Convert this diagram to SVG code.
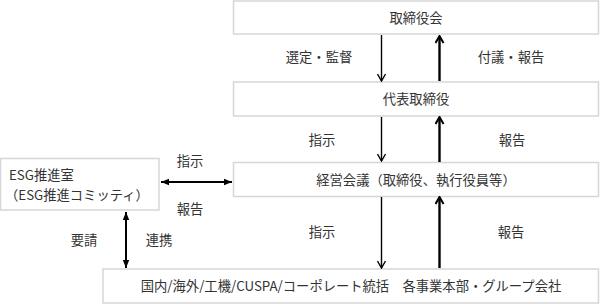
<svg xmlns="http://www.w3.org/2000/svg" width="600" height="304" viewBox="0 0 600 304">
<style>
  .box { fill: #ffffff; stroke: #d6d6d6; stroke-width: 1.5; }
  text { font-family: "Noto Sans CJK JP", "Noto Sans", sans-serif; font-size: 13.3px; fill: #333333; }
  .c { text-anchor: middle; }
  .thin { stroke: #000; stroke-width: 1.4; fill: none; }
  .thick { stroke: #000; stroke-width: 2.4; fill: none; }
  .dbl { stroke: #000; stroke-width: 2; fill: none; }
</style>
<defs>
  <marker id="vThin" markerUnits="userSpaceOnUse" viewBox="0 0 10 10" markerWidth="10" markerHeight="10" refX="9" refY="5" orient="auto">
    <path d="M2,1 L9,5 L2,9" fill="none" stroke="#000" stroke-width="1.4"/>
  </marker>
  <marker id="vThick" markerUnits="userSpaceOnUse" viewBox="0 0 10 10" markerWidth="10" markerHeight="10" refX="9" refY="5" orient="auto">
    <path d="M2,1 L9,5 L2,9" fill="none" stroke="#000" stroke-width="2"/>
  </marker>
  <marker id="tri" markerUnits="userSpaceOnUse" viewBox="0 0 8 8" markerWidth="8" markerHeight="8" refX="8" refY="4" orient="auto-start-reverse">
    <path d="M0,0.8 L8,4 L0,7.2 z" fill="#000"/>
  </marker>
</defs>

<g id="node-board">
  <rect class="box" x="233.5" y="1" width="365" height="33"/>
  <text class="c" x="416" y="23">取締役会</text>
</g>
<g id="node-president">
  <rect class="box" x="233.5" y="82" width="365" height="34"/>
  <text class="c" x="416" y="104">代表取締役</text>
</g>
<g id="node-mgmt">
  <rect class="box" x="233.5" y="162.5" width="365" height="34"/>
  <text class="c" x="416" y="185">経営会議（取締役、執行役員等）</text>
</g>
<g id="node-divisions">
  <rect class="box" x="103" y="269" width="495.5" height="34"/>
  <text class="c" x="351" y="291">国内/海外/工機/CUSPA/コーポレート統括　各事業本部・グループ会社</text>
</g>
<g id="node-esg">
  <rect class="box" x="0.5" y="158.5" width="158.5" height="51.5"/>
  <text x="9" y="180">ESG推進室</text>
  <text x="5" y="200">（ESG推進コミッティ）</text>
</g>

<g id="connectors">
  <line class="thin" x1="381.5" y1="35" x2="381.5" y2="81" marker-end="url(#vThin)"/>
  <line class="thick" x1="439.5" y1="81" x2="439.5" y2="36" marker-end="url(#vThick)"/>
  <line class="thin" x1="381.5" y1="117" x2="381.5" y2="161" marker-end="url(#vThin)"/>
  <line class="thick" x1="439.5" y1="162" x2="439.5" y2="117" marker-end="url(#vThick)"/>
  <line class="thin" x1="381.5" y1="197" x2="381.5" y2="268" marker-end="url(#vThin)"/>
  <line class="thick" x1="439.5" y1="268" x2="439.5" y2="197" marker-end="url(#vThick)"/>
  <line class="dbl" x1="161" y1="182" x2="232" y2="182" marker-start="url(#tri)" marker-end="url(#tri)"/>
  <line class="dbl" x1="126" y1="212" x2="126" y2="268" marker-start="url(#tri)" marker-end="url(#tri)"/>

  <text class="c" x="319" y="62">選定・監督</text>
  <text class="c" x="511" y="62">付議・報告</text>
  <text class="c" x="322" y="145">指示</text>
  <text class="c" x="512" y="145">報告</text>
  <text class="c" x="322" y="237">指示</text>
  <text class="c" x="511" y="237">報告</text>
  <text class="c" x="190" y="166">指示</text>
  <text class="c" x="190" y="214">報告</text>
  <text class="c" x="84" y="245">要請</text>
  <text class="c" x="159" y="245">連携</text>
</g>
</svg>
